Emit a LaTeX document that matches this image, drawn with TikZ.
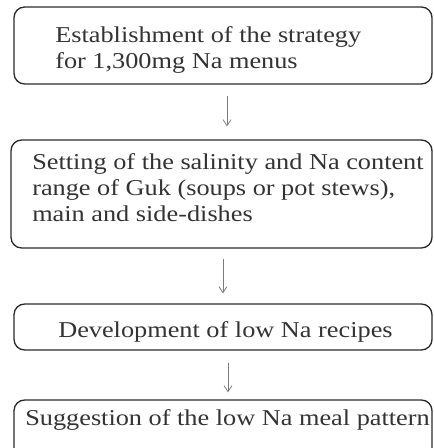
\documentclass[tikz,border=0pt]{standalone}
\usepackage{fontspec}
\setmainfont{Liberation Serif}[FakeStretch=1.16]
\usetikzlibrary{arrows.meta}
\definecolor{box-line}{HTML}{2B2B2B}
\definecolor{box-text}{HTML}{333333}
\definecolor{flow-gray}{HTML}{7A7A7A}

\begin{document}
\begin{tikzpicture}[x=0.75pt, y=-0.75pt,
      every node/.style={font=\fontsize{17}{19.5}\selectfont, text=box-text},
      stepbox/.style={draw=box-line, line width=1pt, rounded corners=8pt, inner sep=0pt},
      steptext/.style={anchor=west, align=left, inner sep=0pt},
      flow/.style={draw=flow-gray, line width=0.6pt,
        -{Straight Barb[length=4.5pt, width=6pt]}}]
    \useasboundingbox (0,0) rectangle (433,448);
    \clip (0,0) rectangle (433,448);
    % boxes
    \node[stepbox, minimum width=313.5pt, minimum height=57.75pt] (b1) at (223,45.5) {};
    \node[stepbox, minimum width=315.75pt, minimum height=81pt] (b2) at (221.5,194) {};
    \node[stepbox, minimum width=313.5pt, minimum height=34.5pt] (b3) at (223,327) {};
    \node[stepbox, minimum width=313.5pt, minimum height=45pt] (b4) at (223,430) {};
    % texts
    \node[steptext] (t1) at (55,49.7)
      {Establishment of the strategy\\for 1,300mg Na menus};
    \node[steptext] (t2) at (32,188)
      {Setting of the salinity and Na content\\range of Guk (soups or pot stews),\\main and side-dishes};
    \node[steptext] (t3) at (58,331.7) {Development of low Na recipes};
    \node[steptext] (t4) at (25,419.7) {Suggestion of the low Na meal pattern};
    % arrows
    \draw[flow, shorten <=8.25pt, shorten >=9.75pt]
      ([xshift=3pt]b1.south) -- ([xshift=3pt]b1.south |- b2.north);
    \draw[flow, shorten <=7.5pt, shorten >=7.5pt]
      ([xshift=1.1pt]b2.south) -- ([xshift=1.1pt]b2.south |- b3.north);
    \draw[flow, shorten <=9pt, shorten >=5.25pt]
      ([xshift=3.75pt]b3.south) -- ([xshift=3.75pt]b3.south |- b4.north);
  \end{tikzpicture}
\end{document}
